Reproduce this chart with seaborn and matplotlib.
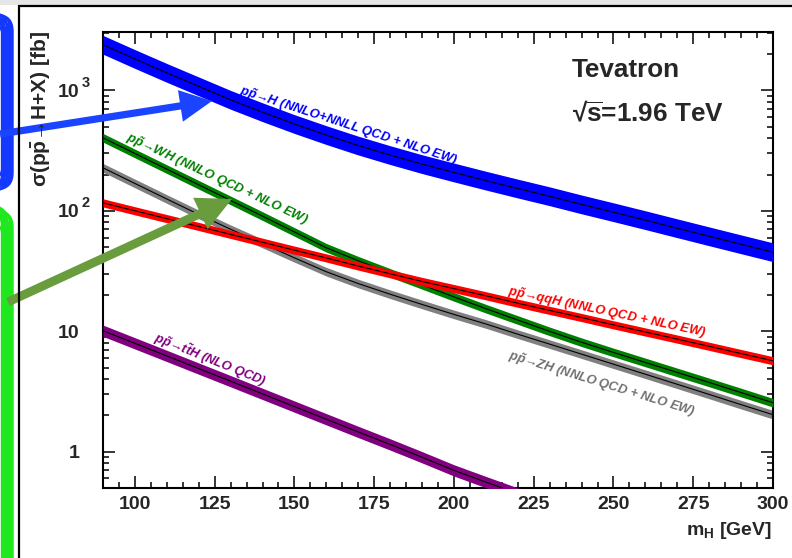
import matplotlib
matplotlib.use("Agg")
import numpy as np
import pandas as pd
import matplotlib.pyplot as plt
import matplotlib.transforms as mtransforms
from matplotlib.patches import FancyArrowPatch, FancyBboxPatch, Rectangle, ArrowStyle
from matplotlib.ticker import FixedLocator, MultipleLocator, LogLocator, NullFormatter, FuncFormatter
import seaborn as sns

# ---------------- data ----------------
mh = [90, 100, 110, 120, 130, 140, 150, 160, 170, 180, 190, 200,
      210, 220, 230, 240, 250, 260, 270, 280, 290, 300]
xs_ggH = [2388, 1820, 1396, 1079, 834, 658, 525, 425, 348, 290, 244, 208,
          178, 153, 132, 113, 97.3, 83.6, 71.6, 61.4, 52.7, 45.3]
xs_WH = [403.6, 299.2, 221.8, 164.4, 121.9, 90.4, 66.8, 49.3, 38.5, 30.5, 24.3, 19.3,
         15.4, 12.4, 9.98, 8.11, 6.67, 5.51, 4.55, 3.76, 3.10, 2.55]
xs_qqH = [116.4, 100, 86.1, 74.1, 63.7, 54.8, 47.1, 40.6, 34.8, 30.0, 25.9, 22.6,
          19.7, 17.1, 14.9, 13.0, 11.3, 9.86, 8.61, 7.50, 6.53, 5.69]
xs_ZH = [227.5, 168.7, 125.3, 93.3, 70.3, 53.5, 40.7, 31.2, 24.9, 20.3, 16.7, 13.8,
         11.5, 9.46, 7.82, 6.46, 5.33, 4.40, 3.63, 2.99, 2.46, 2.03]
mh_ttH = [90, 100, 110, 120, 130, 140, 150, 160, 170, 180, 190, 200, 210, 220, 230]
xs_ttH = [10.1, 7.94, 6.24, 4.90, 3.85, 3.02, 2.37, 1.86, 1.46, 1.15, 0.90, 0.70,
          0.56, 0.45, 0.36]

# band half-widths (in decades)
band_ggH, band_WH, band_qqH, band_ZH, band_ttH = 0.078, 0.036, 0.034, 0.036, 0.047

x_ticks = [100, 125, 150, 175, 200, 225, 250, 275, 300]
y_ticks = [1, 10, 100, 1000]
y_tick_labels = ["1", "10", "10", "10"]
y_tick_exponents = ["", "", "2", "3"]

processes = ["ZH", "WH", "qqH", "ggH", "ttH"]
colors = {"ggH": "#0000ff", "WH": "#008000", "qqH": "#ff0000",
          "ZH": "#808080", "ttH": "#800080"}
bands = {"ggH": band_ggH, "WH": band_WH, "qqH": band_qqH, "ZH": band_ZH, "ttH": band_ttH}

labels = {
    "ggH": r"p$\tilde{p}$→H (NNLO+NNLL QCD + NLO EW)",
    "WH": r"p$\tilde{p}$→WH (NNLO QCD + NLO EW)",
    "qqH": r"p$\tilde{p}$→qqH (NNLO QCD + NLO EW)",
    "ZH": r"p$\tilde{p}$→ZH (NNLO QCD + NLO EW)",
    "ttH": r"p$\tilde{p}$→t$\tilde{t}$H (NLO QCD)",
}
label_pos = {"ggH": (132.5, 935, -18), "WH": (96.9, 381, -25),
             "qqH": (216.6, 20.1, -12), "ZH": (216.9, 5.9, -17),
             "ttH": (105.6, 8.3, -22)}
label_colors = {"ggH": "#0000ff", "WH": "#008000", "qqH": "#ff0000",
                "ZH": "#707070", "ttH": "#800080"}

df = pd.concat([
    pd.DataFrame({"mH": mh, "xsec": xs_ggH, "process": "ggH"}),
    pd.DataFrame({"mH": mh, "xsec": xs_WH, "process": "WH"}),
    pd.DataFrame({"mH": mh, "xsec": xs_qqH, "process": "qqH"}),
    pd.DataFrame({"mH": mh, "xsec": xs_ZH, "process": "ZH"}),
    pd.DataFrame({"mH": mh_ttH, "xsec": xs_ttH, "process": "ttH"}),
], ignore_index=True)

# ---------------- style ----------------
sns.set_theme(style="ticks")
plt.rcParams.update({
    "font.family": ["Liberation Sans", "DejaVu Sans"],
    "font.weight": "bold",
    "mathtext.fontset": "custom",
    "mathtext.rm": "Liberation Sans",
    "mathtext.it": "Liberation Sans:italic",
    "mathtext.bf": "Liberation Sans:bold",
    "mathtext.default": "regular",
    "mathtext.fallback": "stixsans",
    "axes.facecolor": "white",
    "figure.facecolor": "white",
})

W, H = 792, 558
fig = plt.figure(figsize=(W / 100, H / 100), dpi=100)
ax = fig.add_axes([103 / W, (H - 488) / H, 670 / W, 456 / H])
ax.set_yscale("log")

for i, p in enumerate(processes):
    sub = df[df["process"] == p]
    d = 10 ** bands[p]
    ax.fill_between(sub["mH"], sub["xsec"] / d, sub["xsec"] * d,
                    color=colors[p], lw=0, zorder=2 + i)
    sns.lineplot(data=sub, x="mH", y="xsec", color="black", lw=0.8,
                 ax=ax, zorder=2.5 + i, legend=False)

ax.set_xlim(90, 300)
ax.set_ylim(0.5, 3050)
ax.set_xlabel("")
ax.set_ylabel("")

for s in ax.spines.values():
    s.set_visible(True)
    s.set_linewidth(1.5)
    s.set_color("black")

ax.xaxis.set_major_locator(FixedLocator(x_ticks))
ax.xaxis.set_minor_locator(MultipleLocator(5))
ax.yaxis.set_major_locator(FixedLocator(y_ticks))
ax.yaxis.set_minor_locator(LogLocator(base=10, subs=np.arange(2, 10)))
ax.yaxis.set_minor_formatter(NullFormatter())
ylab_map = dict(zip(y_ticks, y_tick_labels))
ax.yaxis.set_major_formatter(FuncFormatter(lambda v, pos: ylab_map.get(int(round(v)), "")))
ax.xaxis.set_major_formatter(FuncFormatter(lambda v, pos: f"{int(v)}"))

ax.tick_params(which="both", direction="in", top=True, right=True,
               color="black", width=1.1)
ax.tick_params(which="major", length=8.6)
ax.tick_params(which="minor", length=4.3)
ax.tick_params(axis="x", which="major", labelsize=14, pad=6.0)
ax.tick_params(axis="y", which="major", labelsize=14, pad=17.0)
for t in ax.get_xticklabels() + ax.get_yticklabels():
    t.set_fontweight("bold")

# exponents on the y tick labels
blend = mtransforms.blended_transform_factory(ax.transAxes, ax.transData)
sup_tr = mtransforms.offset_copy(blend, fig=fig, x=0, y=5.5, units="points")
for v, e in zip(y_ticks, y_tick_exponents):
    if e:
        ax.text(-0.0315, v, e, transform=sup_tr, fontsize=10.5, fontweight="bold",
                ha="left", va="center", clip_on=False)

# curve labels
for p in processes:
    x, y, rot = label_pos[p]
    ax.text(x, y, labels[p], color=label_colors[p], fontsize=9.3,
            fontweight="bold", fontstyle="italic", rotation=rot,
            rotation_mode="anchor", ha="left", va="baseline", zorder=20)

ax.text(0.700, 0.901, "Tevatron", transform=ax.transAxes, fontsize=18.8,
        fontweight="bold", ha="left", va="baseline")
ax.text(0.700, 0.803, r"√$\overline{s}$=1.96 TeV", transform=ax.transAxes, fontsize=18.8,
        fontweight="bold", ha="left", va="baseline")

# axis titles
fig.text(41 / W, 1 - 31 / H, r"$\sigma$(p$\bar{p}$→H+X) [fb]", rotation=90,
         ha="center", va="top", fontsize=15, fontweight="bold")
fig.text(772 / W, 1 - 535 / H, r"m$_{H}$ [GeV]", ha="right", va="baseline",
         fontsize=14, fontweight="bold")

# ---------------- overlay: frame, scribbles and arrows ----------------
ov = fig.add_axes([0, 0, 1, 1])
ov.set_xlim(0, W)
ov.set_ylim(H, 0)
ov.axis("off")
ov.patch.set_alpha(0)

ov.add_patch(Rectangle((0, 0), W, 4.5, facecolor="#e6e6e6", edgecolor="none"))
ov.plot([18, W], [5.5, 5.5], color="black", lw=1.6, solid_capstyle="butt")
ov.plot([19, 19], [5, H], color="black", lw=1.6, solid_capstyle="butt")

blue_s = "#1538ff"
for xr, yt, yb in [(4, 18, 186), (5, 16, 188), (6.5, 20, 184), (7, 13, 191),
                   (8.5, 17, 187), (9, 18, 185), (10, 14, 190), (11, 20, 183),
                   (12, 16, 186), (12.5, 15, 189), (3, 22, 180), (2, 15, 190)]:
    ov.add_patch(FancyBboxPatch((-40, yt), 40 + xr, yb - yt,
                                boxstyle="round,pad=0,rounding_size=16",
                                fill=False, edgecolor=blue_s, lw=1.7))
green_s = "#1fe81f"
for xr, yt in [(4, 214), (5, 212), (6.5, 208), (7, 206), (8.5, 213), (9, 215),
               (10, 209), (11, 218), (12, 212), (12.5, 211), (3, 222), (2, 210)]:
    ov.add_patch(FancyBboxPatch((-40, yt), 40 + xr, 600 - yt,
                                boxstyle="round,pad=0,rounding_size=16",
                                fill=False, edgecolor=green_s, lw=1.7))

ov.add_patch(FancyArrowPatch((0, 134), (212, 101),
                             arrowstyle=ArrowStyle.Simple(head_length=23, head_width=23,
                                                          tail_width=5.2),
                             mutation_scale=1, color="#1a44ff", shrinkA=0, shrinkB=0,
                             lw=0))
ov.add_patch(FancyArrowPatch((8, 302), (232, 199),
                             arrowstyle=ArrowStyle.Simple(head_length=25, head_width=25,
                                                          tail_width=6.3),
                             mutation_scale=1, color="#689c3c", shrinkA=0, shrinkB=0,
                             lw=0))

fig.savefig("out.png", dpi=100)
